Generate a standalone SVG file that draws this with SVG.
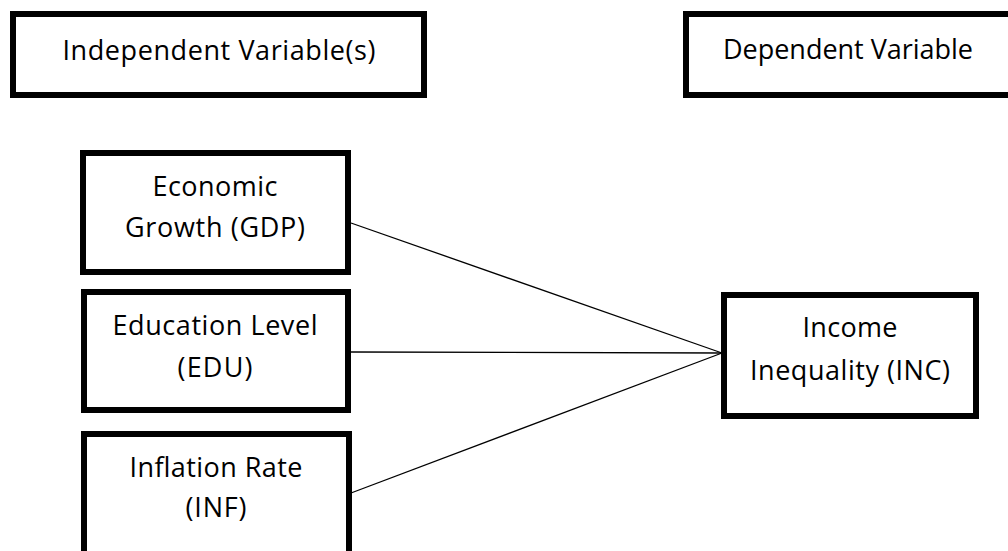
<svg xmlns="http://www.w3.org/2000/svg" width="1008" height="551" viewBox="0 0 1008 551">
  <style>
    .box { fill: #ffffff; stroke: #000000; stroke-width: 6; }
    .lbl { font-family: "Open Sans", "Liberation Sans", sans-serif; font-size: 27px; fill: #000000; text-anchor: middle; }
    .conn { stroke: #000000; stroke-width: 1.3; fill: none; }
  </style>
  <rect width="1008" height="551" fill="#ffffff"/>
  <g id="connectors">
    <line class="conn" x1="351" y1="223" x2="722" y2="353"/>
    <line class="conn" x1="351" y1="352" x2="722" y2="353"/>
    <line class="conn" x1="351" y1="493" x2="722" y2="353"/>
  </g>
  <g id="independent-header">
    <rect class="box" x="13" y="14" width="411" height="81"/>
    <text class="lbl" x="219" y="60" textLength="313">Independent Variable(s)</text>
  </g>
  <g id="dependent-header">
    <rect class="box" x="686" y="14" width="340" height="81"/>
    <text class="lbl" x="848" y="59" textLength="250">Dependent Variable</text>
  </g>
  <g id="gdp">
    <rect class="box" x="83" y="153" width="265" height="119"/>
    <text class="lbl" x="215" y="196" textLength="125">Economic</text>
    <text class="lbl" x="215" y="237" textLength="180">Growth (GDP)</text>
  </g>
  <g id="edu">
    <rect class="box" x="84" y="292" width="264" height="118"/>
    <text class="lbl" x="215" y="335" textLength="205">Education Level</text>
    <text class="lbl" x="215" y="377" textLength="75">(EDU)</text>
  </g>
  <g id="inf">
    <rect class="box" x="84" y="434" width="265" height="140"/>
    <text class="lbl" x="216" y="477" textLength="173">Inflation Rate</text>
    <text class="lbl" x="216" y="517" textLength="61">(INF)</text>
  </g>
  <g id="inc">
    <rect class="box" x="724" y="295" width="252" height="121"/>
    <text class="lbl" x="850" y="337" textLength="95">Income</text>
    <text class="lbl" x="850" y="380" textLength="200">Inequality (INC)</text>
  </g>
</svg>
